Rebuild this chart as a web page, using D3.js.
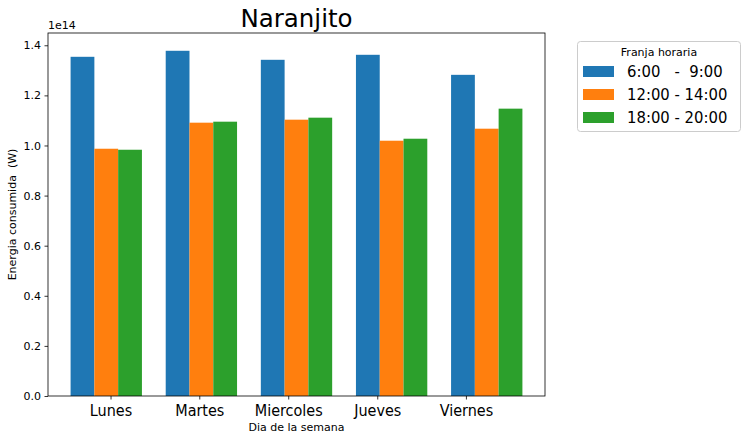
<!DOCTYPE html>
<html>
<head>
<meta charset="utf-8">
<script src="https://cdn.jsdelivr.net/npm/d3@7"></script>
<style>
  body { margin: 0; background: #fff; }
  svg { font-family: "DejaVu Sans", sans-serif; }
  .keep { white-space: pre; }
  .narrow { font-family: "DejaVu Sans Condensed", "DejaVu Sans", sans-serif; font-stretch: condensed; }
</style>
</head>
<body>
<svg id="chart" width="749" height="441"></svg>
<script>
var days = ["Lunes", "Martes", "Miercoles", "Jueves", "Viernes"];
var franjas = ["6:00   -  9:00", "12:00 - 14:00", "18:00 - 20:00"];
var colors = ["#1f77b4", "#ff7f0e", "#2ca02c"];

// energia consumida (W), una serie por franja horaria
var manana = [1.354e14, 1.378e14, 1.342e14, 1.362e14, 1.282e14];
var mediodia = [0.987e14, 1.091e14, 1.103e14, 1.019e14, 1.067e14];
var tarde = [0.983e14, 1.095e14, 1.111e14, 1.027e14, 1.147e14];

// posiciones de las etiquetas del eje x (en unidades de datos)
var tickPos = [0.295, 1.228, 2.163, 3.099, 4.031];
var yTicks = [0, 0.2e14, 0.4e14, 0.6e14, 0.8e14, 1.0e14, 1.2e14, 1.4e14];

var series = [manana, mediodia, tarde];
var barWidth = 0.25;

var plotL = 48, plotR = 545, plotT = 33, plotB = 396;

var svg = d3.select("#chart");

var xScale = d3.scaleLinear()
               .domain([-0.3625, 4.8625])
               .range([plotL, plotR]);

var yScale = d3.scaleLinear()
               .domain([0, 1.449e14])
               .range([plotB, plotT]);

// barras
series.forEach(function(s, k){
  svg.append("g")
     .selectAll("rect")
     .data(s)
     .enter()
     .append("rect")
     .attr("x", function(d, i){
                  return xScale(i + k * barWidth - barWidth / 2)
                })
     .attr("width", xScale(barWidth) - xScale(0))
     .attr("y", function(d){
                  return yScale(d)
                })
     .attr("height", function(d){
                  return yScale(0) - yScale(d)
                })
     .style("fill", colors[k]);
});

// eje y
var yAxis = svg.append("g")
   .attr("transform", "translate(" + plotL + ",0)")
   .call(d3.axisLeft(yScale)
           .tickValues(yTicks)
           .tickSize(3.5)
           .tickPadding(3.5)
           .tickFormat(function(d){ return (d / 1e14).toFixed(1) }));
yAxis.select(".domain").remove();
yAxis.selectAll("line").attr("stroke", "#000").attr("stroke-width", 0.8);
yAxis.selectAll("text")
     .attr("fill", "#000")
     .style("font-size", "11px")
     .style("font-family", "DejaVu Sans");

// eje x
var xAxis = svg.append("g")
   .attr("transform", "translate(0," + plotB + ")")
   .call(d3.axisBottom(xScale)
           .tickValues(tickPos)
           .tickSize(3.5)
           .tickFormat(function(d, i){ return days[i] }));
xAxis.select(".domain").remove();
xAxis.selectAll("line").attr("stroke", "#000").attr("stroke-width", 0.8);
xAxis.selectAll("text")
     .attr("class", "narrow")
     .attr("fill", "#000")
     .attr("y", 20)
     .attr("dy", 0)
     .style("font-size", "16px");

// marco
svg.append("rect")
   .attr("x", plotL)
   .attr("y", plotT)
   .attr("width", plotR - plotL)
   .attr("height", plotB - plotT)
   .attr("fill", "none")
   .attr("stroke", "#000")
   .attr("stroke-width", 0.8);

// textos
svg.append("text")
   .attr("x", plotL)
   .attr("y", 29)
   .style("font-size", "11px")
   .text("1e14");

svg.append("text")
   .attr("x", (plotL + plotR) / 2)
   .attr("y", 27)
   .attr("text-anchor", "middle")
   .style("font-size", "24.5px")
   .text("Naranjito");

svg.append("text")
   .attr("x", (plotL + plotR) / 2)
   .attr("y", 431)
   .attr("text-anchor", "middle")
   .style("font-size", "11px")
   .text("Dia de la semana");

svg.append("text")
   .attr("class", "keep")
   .attr("transform", "translate(16," + ((plotT + plotB) / 2) + ") rotate(-90)")
   .attr("text-anchor", "middle")
   .style("font-size", "11px")
   .text("Energia consumida  (W)");

// leyenda
var legend = svg.append("g").attr("class", "legend");

legend.append("rect")
      .attr("x", 577.5)
      .attr("y", 41.5)
      .attr("width", 163)
      .attr("height", 90)
      .attr("rx", 3)
      .attr("fill", "#fff")
      .attr("stroke", "#ccc")
      .attr("stroke-width", 1);

legend.append("text")
      .attr("x", 659)
      .attr("y", 56)
      .attr("text-anchor", "middle")
      .style("font-size", "11px")
      .text("Franja horaria");

var items = legend.selectAll("g.item")
      .data(franjas)
      .enter()
      .append("g")
      .attr("class", "item");

items.append("rect")
     .attr("x", 583)
     .attr("y", function(d, i){ return 66 + i * 23 })
     .attr("width", 31)
     .attr("height", 11)
     .style("fill", function(d, i){ return colors[i] });

items.append("text")
     .attr("class", "keep narrow")
     .attr("x", 627)
     .attr("y", function(d, i){ return 77 + i * 23 })
     .style("font-size", "16.5px")
     .text(function(d){ return d });
</script>
</body>
</html>
